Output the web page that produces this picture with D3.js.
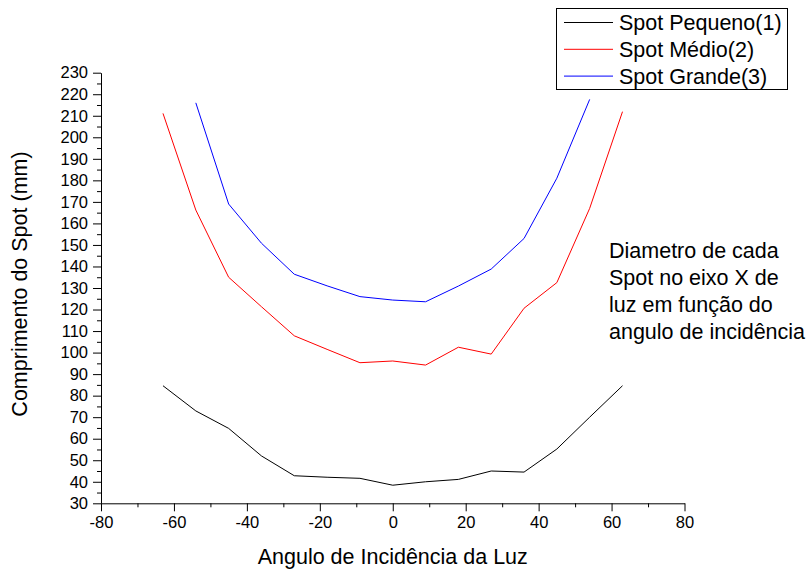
<!DOCTYPE html>
<html>
<head>
<meta charset="utf-8">
<script src="https://cdn.jsdelivr.net/npm/d3@7"></script>
<style>
  html, body { margin: 0; padding: 0; background: #fff; }
  svg { display: block; font-family: "Liberation Sans", Arial, sans-serif; }
</style>
</head>
<body>
<svg id="chart" width="810" height="576"></svg>
<script>
// Incidence angles (degrees)
const anglesWide = [-63, -54, -45, -36, -27, -18, -9, 0, 9, 18, 27, 36, 45, 54, 63];
const anglesNarrow = [-54, -45, -36, -27, -18, -9, 0, 9, 18, 27, 36, 45, 54];

// Spot length (mm) for each spot size
const spotPequeno = [84.6, 72.9, 64.8, 52.0, 42.8, 42.1, 41.6, 38.4, 40.0, 41.1, 45.0, 44.5, 55.2, 70.0, 84.6];
const spotMedio   = [211.1, 166.2, 135.0, 121.3, 107.8, 101.5, 95.3, 96.1, 94.2, 102.5, 99.3, 120.6, 132.5, 167.0, 211.9];
const spotGrande  = [216.0, 169.0, 150.8, 136.4, 131.0, 126.0, 124.4, 123.6, 130.9, 138.8, 153.0, 181.0, 217.6];

const seriesNames = ["Spot Pequeno(1)", "Spot Médio(2)", "Spot Grande(3)"];
const seriesColors = ["#000000", "#ff0000", "#0000ff"];

const xMajorTicks = [-80, -60, -40, -20, 0, 20, 40, 60, 80];
const yMajorTicks = [30, 40, 50, 60, 70, 80, 90, 100, 110, 120, 130, 140, 150, 160, 170, 180, 190, 200, 210, 220, 230];

const xTitle = "Angulo de Incidência da Luz";
const yTitle = "Comprimento do Spot (mm)";
const noteLines = ["Diametro de cada", "Spot no eixo X de", "luz em função do", "angulo de incidência"];

const svg = d3.select("#chart");
const plot = { left: 101, right: 684.5, top: 72.7, bottom: 503.3 };

const x = d3.scaleLinear().domain([-80, 80]).range([plot.left, plot.right]);
const y = d3.scaleLinear().domain([30, 230]).range([plot.bottom, plot.top]);

const tickFont = "16.5px";
const titleFont = "21.5px";
// plain hyphen for negative numbers
const fmt = d => String(d);

// Minor ticks
const xMinor = d3.range(-70, 80, 20);
const yMinor = d3.range(35, 230, 10);

svg.append("g")
  .attr("transform", `translate(0,${plot.bottom})`)
  .call(d3.axisBottom(x).tickValues(xMinor).tickSize(4).tickFormat(""))
  .call(g => g.select(".domain").remove());

svg.append("g")
  .attr("transform", `translate(${plot.left},0)`)
  .call(d3.axisLeft(y).tickValues(yMinor).tickSize(4).tickFormat(""))
  .call(g => g.select(".domain").remove());

// Major axes
const xAxis = svg.append("g")
  .attr("transform", `translate(0,${plot.bottom})`)
  .call(d3.axisBottom(x).tickValues(xMajorTicks).tickSize(8).tickSizeOuter(0).tickPadding(5).tickFormat(fmt));
xAxis.selectAll("text").attr("font-size", tickFont).attr("fill", "#000");

const yAxis = svg.append("g")
  .attr("transform", `translate(${plot.left},0)`)
  .call(d3.axisLeft(y).tickValues(yMajorTicks).tickSize(8).tickSizeOuter(0).tickPadding(5).tickFormat(fmt));
yAxis.selectAll("text").attr("font-size", tickFont).attr("fill", "#000");

svg.selectAll(".domain, .tick line").attr("stroke", "#000").attr("stroke-width", 1);
svg.selectAll(".tick text").attr("font-family", "Liberation Sans, Arial, sans-serif");

// Series lines
const line = d3.line().x(d => x(d[0])).y(d => y(d[1]));
const series = [
  { xs: anglesWide, ys: spotPequeno },
  { xs: anglesWide, ys: spotMedio },
  { xs: anglesNarrow, ys: spotGrande }
];
series.forEach((s, i) => {
  svg.append("path")
    .datum(s.xs.map((a, k) => [a, s.ys[k]]))
    .attr("fill", "none")
    .attr("stroke", seriesColors[i])
    .attr("stroke-width", 1)
    .attr("d", line);
});

// Axis titles
svg.append("text")
  .attr("x", (plot.left + plot.right) / 2)
  .attr("y", 564)
  .attr("text-anchor", "middle")
  .attr("font-size", titleFont)
  .text(xTitle);

svg.append("text")
  .attr("transform", `translate(27,${(plot.top + plot.bottom) / 2 - 4}) rotate(-90)`)
  .attr("text-anchor", "middle")
  .attr("font-size", titleFont)
  .text(yTitle);

// Legend
const legend = svg.append("g");
legend.append("rect")
  .attr("x", 556.5).attr("y", 8.5).attr("width", 231).attr("height", 81)
  .attr("fill", "#fff").attr("stroke", "#000").attr("stroke-width", 1);
seriesNames.forEach((name, i) => {
  const ry = 22.5 + i * 26.8;
  legend.append("line")
    .attr("x1", 564).attr("x2", 613)
    .attr("y1", ry).attr("y2", ry)
    .attr("stroke", seriesColors[i]).attr("stroke-width", 1);
  legend.append("text")
    .attr("x", 619).attr("y", ry)
    .attr("dy", "0.36em")
    .attr("font-size", titleFont)
    .text(name);
});

// Annotation
const note = svg.append("text")
  .attr("x", 609)
  .attr("y", 258)
  .attr("font-size", titleFont);
noteLines.forEach((t, i) => {
  note.append("tspan").attr("x", 609).attr("y", 258 + i * 27).text(t);
});
</script>
</body>
</html>
